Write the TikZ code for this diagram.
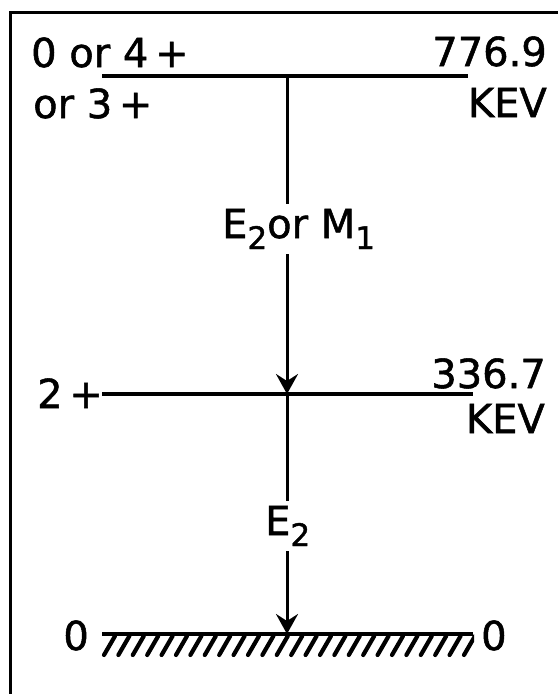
\documentclass[tikz,border=0pt]{standalone}
\usepackage{fontspec}
\setmainfont{DejaVu Sans}[FakeBold=1.3]
\usetikzlibrary{arrows.meta}
\newcommand{\lowsub}[1]{\raisebox{-11pt}{\fontsize{31}{34}\selectfont #1}}

\begin{document}
\begin{tikzpicture}[x=1pt,y=-1pt,
 every node/.style={font=\fontsize{40}{48}\selectfont,inner sep=0pt},
 frameline/.style={line width=3pt},
 level/.style={line width=4.5pt},
 trans/.style={line width=3pt},
 hatchline/.style={line width=4.2pt,line cap=round},
 head/.style={-{Stealth[length=20pt,width=22pt,inset=7pt]}}]
 \useasboundingbox (0,0) rectangle (558,694);
 \draw[frameline] (10,694)--(10,12)--(558,12);

 % levels
 \coordinate (topL) at (102,76);  \coordinate (topR) at (468,76);
 \coordinate (midL) at (102,394); \coordinate (midR) at (473,394);
 \coordinate (gndL) at (102,634); \coordinate (gndR) at (473,634);
 \draw[level] (topL)--(topR);
 \draw[level] (midL)--(midR);
 \draw[level] (gndL)--(gndR);
 \begin{scope}
  \clip (100,634) rectangle (474,662);
  \foreach \i in {0,...,25}
   {\draw[hatchline] ({104+14.4*\i},655)--++(11,-19);}
 \end{scope}

 % level labels
 \node[anchor=base west] (spinA) at (31,67) {0 or 4\,+};
 \node[anchor=base west] (spinB) at (33,118) {or 3\,+};
 \node[anchor=base east] (enA) at (547,66) {776.9};
 \node[anchor=base east] (kevA) at (547,117) {KEV};
 \node[anchor=base west] (spinC) at (37,408) {2\,+};
 \node[anchor=base east] (enB) at (546,388) {336.7};
 \node[anchor=base east] (kevB) at (545,433) {KEV};
 \node[anchor=base east] (spinD) at (89,650) {0};
 \node[anchor=base west] (enC) at (481,650) {0};

 % transitions
 \coordinate (vtop) at (287,76);
 \coordinate (vmid) at (287,394);
 \coordinate (vgnd) at (287,634);
 \node[anchor=base west,inner ysep=5pt] (multA) at (222,238) {E\lowsub{2}or M\lowsub{1}};
 \node[anchor=base west,inner ysep=5pt] (multB) at (265,535) {E\lowsub{2}};
 \draw[trans] (vtop)--(vtop |- multA.north);
 \draw[trans,head] (vtop |- multA.south)--(vmid);
 \draw[trans] (vmid)--(vmid |- multB.north);
 \draw[trans,head] (vmid |- multB.south)--(vgnd);
\end{tikzpicture}
\end{document}
